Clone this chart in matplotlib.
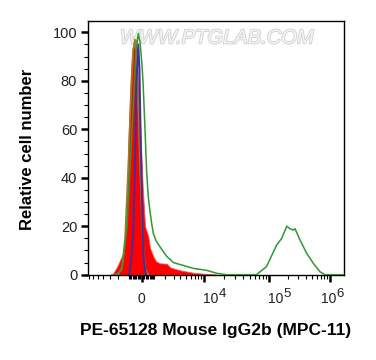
import numpy as np
import matplotlib
matplotlib.use('Agg')
import matplotlib.pyplot as plt
import matplotlib.patheffects as pe
import matplotlib.transforms as mtransforms

plt.rcParams['font.family'] = ['Liberation Sans', 'DejaVu Sans']

# ---- data (fluorescence intensity, relative cell number) ----
red_x = [-2990, -2600, -2258, -2034, -1828, -1506, -1350, -1172, -1060, -859, -753,
         -593, -513, -437, -359, -129, 76, 251, 506, 641, 909, 1137, 1496, 2185,
         2563, 3955, 6713, 11000, 15600]
red_y = [0, 0.5, 2.5, 4, 6, 9, 15, 35, 55, 82, 92, 97, 93, 97, 90, 64, 36, 20,
         15.7, 11, 7.5, 5.5, 4.7, 4.5, 3, 1.8, 0.8, 0.3, 0]

olive_x = [-2034, -1630, -1350, -1060, -836, -649, -513, -400, -260, -129, 76, 251, 506]
olive_y = [0, 3, 15, 45, 75, 93, 97, 90, 70, 45, 15, 3, 0]

blue_x = [-1000, -836, -649, -513, -398, -260, -170, -75, 76, 175, 328]
blue_y = [0, 5, 17, 45, 80, 95, 85, 55, 17, 5, 0]

green_x = [-2300, -1630, -1172, -753, -437, -260, -129, 0, 99, 251, 382, 506, 641,
           777, 909, 1137, 1496, 2185, 2982, 4248, 6713, 11000, 15600, 22200,
           63500, 90300, 132000, 160000, 194000, 219000, 249000, 265000, 321000,
           413000, 531000, 685000, 828000, 1700000]
green_y = [0, 2, 20, 60, 92, 99.5, 96, 88, 80, 60, 42, 32, 26, 21, 17, 14, 11.5,
           7.5, 5, 4, 2.6, 1.8, 0.6, 0, 0, 3.3, 12.2, 15, 20, 19, 18.4, 19, 14.3,
           8.8, 4.7, 1.2, 0, 0]

major_ticks = [0, 1e4, 1e5, 1e6]
major_bases = ['0', '10', '10', '10']
major_exps = ['', '4', '5', '6']
y_ticks = [0, 20, 40, 60, 80, 100]

# ---- logicle-like axis transform (arcsinh based) ----
C = 2075.0
A_anch = np.array([-1.96, 0.0, 2.276, 4.568, 6.871])
P_anch = np.array([88.3, 141.7, 204.0, 269.3, 330.0])
sl_lo = (P_anch[1] - P_anch[0]) / (A_anch[1] - A_anch[0])
sl_hi = (P_anch[-1] - P_anch[-2]) / (A_anch[-1] - A_anch[-2])
A_ext = np.concatenate([[-30.0], A_anch, [40.0]])
P_ext = np.concatenate([[P_anch[0] + (-30.0 - A_anch[0]) * sl_lo], P_anch,
                        [P_anch[-1] + (40.0 - A_anch[-1]) * sl_hi]])


def fwd(x):
    return np.interp(np.arcsinh(np.asarray(x, dtype=float) / C), A_ext, P_ext)


def inv(p):
    return C * np.sinh(np.interp(np.asarray(p, dtype=float), P_ext, A_ext))


W, H = 376, 360
fig = plt.figure(figsize=(W / 100, H / 100), dpi=100)
ax = fig.add_axes([88.3 / W, 1 - 275.3 / H, (344 - 88.3) / W, (275.3 - 20.7) / H])
ax.set_xscale('function', functions=(fwd, inv))
ax.set_xlim(inv(88.3), inv(344.0))
ax.set_ylim(-0.25, 104.8)

ax.fill_between(red_x, red_y, 0, color='#ff0000', lw=0.6, edgecolor='#ff5050', zorder=2)
ax.plot(olive_x, olive_y, color='#9c7d2a', lw=1.2, zorder=3)
ax.plot(blue_x, blue_y, color='#3c2fa0', lw=1.4, zorder=4)
ax.plot(green_x, green_y, color='#2e9a2e', lw=1.1, zorder=5)

ax.text(0.502, 0.932, 'WWW.PTGLAB.COM', transform=ax.transAxes, ha='center', va='center',
        fontsize=14.5, color='#f4f4f4', style='italic', zorder=1,
        path_effects=[pe.withStroke(linewidth=1.2, foreground='#cfcfcf')])

# y axis ticks
ax.set_yticks(y_ticks)
ax.set_yticks(np.arange(0, 105, 5), minor=True)
ax.tick_params(axis='y', which='major', length=5, width=1.8, pad=3, labelsize=10.5,
               labelcolor='#222222')
ax.tick_params(axis='y', which='minor', length=3, width=0.8)

# x axis ticks
minor = []
for d in [100, 1000]:
    for k in range(1, 10):
        minor += [k * d, -k * d]
for d in [1e4, 1e5]:
    for k in range(2, 10):
        minor.append(k * d)
xmin, xmax = ax.get_xlim()
minor = [m for m in minor if xmin < m < xmax]
ax.set_xticks(major_ticks)
ax.set_xticklabels([''] * len(major_ticks))
ax.set_xticks(minor, minor=True)
ax.tick_params(axis='x', which='major', length=5, width=1.8)
ax.tick_params(axis='x', which='minor', length=3, width=0.8)

# FlowJo-style decade labels: "10" with a large raised exponent
blend = mtransforms.blended_transform_factory(ax.transData, ax.transAxes)
base_dx = [0, -1, -1, -9]
for val, base, ex, dx in zip(major_ticks, major_bases, major_exps, base_dx):
    if ex == '':
        tr = mtransforms.offset_copy(blend, fig=fig, x=-0.5, y=-28, units='dots')
        ax.text(val, 0, base, transform=tr, ha='center', va='baseline',
                fontsize=10, color='#222222', clip_on=False)
    else:
        tr = mtransforms.offset_copy(blend, fig=fig, x=dx, y=-28, units='dots')
        ax.text(val, 0, base, transform=tr, ha='left', va='baseline',
                fontsize=10, color='#222222', clip_on=False)
        tr2 = mtransforms.offset_copy(blend, fig=fig, x=dx + 15.5, y=-21.5, units='dots')
        ax.text(val, 0, ex, transform=tr2, ha='left', va='baseline',
                fontsize=9.5, color='#222222', clip_on=False)

for s in ax.spines.values():
    s.set_linewidth(1.0)

fig.text(215.5 / W, 1 - 331 / H, 'PE-65128 Mouse IgG2b (MPC-11)', ha='center', va='center',
         fontsize=12.5, fontweight='bold')
fig.text(28 / W, 1 - 149 / H, 'Relative cell number', ha='center', va='center',
         rotation=90, fontsize=12, fontweight='bold')

fig.savefig('out.png', dpi=100)
